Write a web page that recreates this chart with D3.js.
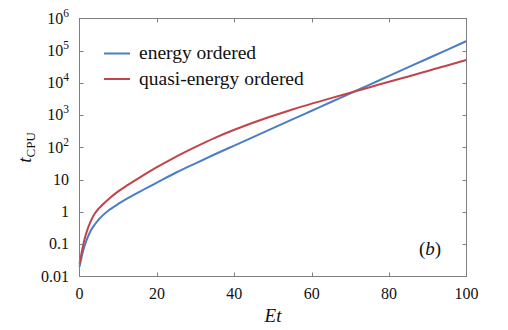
<!DOCTYPE html>
<html>
<head>
<meta charset="utf-8">
<script src="https://cdn.jsdelivr.net/npm/d3@7"></script>
<style>
  html, body { margin: 0; padding: 0; background: #fff; }
</style>
</head>
<body>
<div id="chart"></div>
<script>
// ── Data ──────────────────────────────────────
const ET = [0, 0.25, 0.5, 1, 1.5, 2, 3, 4, 5, 6, 8, 10, 12.5, 15, 20, 25, 30, 35, 40, 45, 50, 55, 60, 65, 70, 75, 80, 85, 90, 95, 100];
const ENERGY_ORDERED = [0.020, 0.0275, 0.038, 0.066, 0.105, 0.151, 0.275, 0.417, 0.589, 0.785, 1.23, 1.78, 2.69, 3.94, 8.13, 16.8, 32.4, 61.7, 115, 214, 398, 741, 1380, 2570, 4790, 8910, 16600, 30900, 57500, 107000, 200000];
const QUASI_ORDERED  = [0.0251, 0.0363, 0.0513, 0.102, 0.174, 0.275, 0.550, 0.912, 1.29, 1.70, 2.82, 4.37, 6.92, 10.7, 24.5, 52.5, 105, 200, 355, 596, 966, 1500, 2290, 3390, 5010, 7410, 11000, 16000, 23700, 35100, 51900];
const SERIES = [
  { name: "energy ordered",       values: ENERGY_ORDERED, color: "#4A7EC2" },
  { name: "quasi-energy ordered", values: QUASI_ORDERED,  color: "#C0444A" }
];
const X_TICKS = [0, 20, 40, 60, 80, 100];
const Y_TICKS = [0.01, 0.1, 1, 10, 1e2, 1e3, 1e4, 1e5, 1e6];

const W = 508, H = 330;
const AXIS = "#7f7f7f";

// pick the first serif face that is actually installed
function pickFont(list) {
  const ctx = document.createElement("canvas").getContext("2d");
  const probe = "energy ordered 0.01 quasi";
  ctx.font = "20px monospace";
  const base = ctx.measureText(probe).width;
  for (const f of list) {
    ctx.font = `20px "${f}", monospace`;
    if (Math.abs(ctx.measureText(probe).width - base) > 0.5) return `"${f}"`;
  }
  return "serif";
}
const FONT = pickFont(["Liberation Serif", "DejaVu Serif", "Tinos", "Times New Roman", "Noto Serif", "FreeSerif", "Nimbus Roman", "Times"]);

const x = d3.scaleLinear().domain([0, 100]).range([79.5, 466.5]);
const y = d3.scaleLog().domain([0.01, 1e6]).range([276.5, 18.5]);

const svg = d3.select("#chart").append("svg").attr("width", W).attr("height", H)
  .style("font-family", FONT);

// ── Curves ───────────────────────────────────
const line = d3.line().curve(d3.curveMonotoneX);
SERIES.forEach(s => {
  svg.append("path")
    .attr("d", line(ET.map((e, i) => [x(e), y(s.values[i])])))
    .attr("fill", "none").attr("stroke", s.color).attr("stroke-width", 2);
});

// ── Frame + inward ticks ─────────────────────
const [x0, x1] = x.range(), [y0, y1] = y.range();
svg.append("rect").attr("x", x0).attr("y", y1).attr("width", x1 - x0).attr("height", y0 - y1)
  .attr("fill", "none").attr("stroke", AXIS).attr("stroke-width", 1);

const tl = 4;
X_TICKS.slice(1, -1).forEach(t => {
  const px = Math.round(x(t)) + 0.5;
  svg.append("line").attr("x1", px).attr("x2", px).attr("y1", y0).attr("y2", y0 - tl).attr("stroke", AXIS);
  svg.append("line").attr("x1", px).attr("x2", px).attr("y1", y1).attr("y2", y1 + tl).attr("stroke", AXIS);
});
Y_TICKS.slice(1, -1).forEach(t => {
  const py = Math.round(y(t)) + 0.5;
  svg.append("line").attr("x1", x0).attr("x2", x0 + tl).attr("y1", py).attr("y2", py).attr("stroke", AXIS);
  svg.append("line").attr("x1", x1).attr("x2", x1 - tl).attr("y1", py).attr("y2", py).attr("stroke", AXIS);
});

// ── Tick labels ──────────────────────────────
svg.selectAll(".xl").data(X_TICKS).join("text")
  .attr("x", d => x(d)).attr("y", 299)
  .attr("text-anchor", "middle").attr("font-size", 16).attr("fill", "#111")
  .text(d => d);

Y_TICKS.forEach(t => {
  const txt = svg.append("text").attr("x", 69).attr("y", y(t) + 5)
    .attr("text-anchor", "end").attr("font-size", 16).attr("fill", "#111");
  if (t <= 10) {
    txt.text(t);
  } else {
    txt.append("tspan").text("10");
    txt.append("tspan").attr("dy", -7).attr("font-size", 11.5).text(Math.round(Math.log10(t)));
  }
});

// ── Axis titles ──────────────────────────────
svg.append("text").attr("x", (x0 + x1) / 2).attr("y", 322)
  .attr("text-anchor", "middle").attr("font-size", 19).attr("font-style", "italic").attr("fill", "#111")
  .text("Et");

const yt = svg.append("text")
  .attr("transform", `translate(31,${(y0 + y1) / 2}) rotate(-90)`)
  .attr("text-anchor", "middle").attr("font-size", 19).attr("fill", "#111");
yt.append("tspan").attr("font-style", "italic").text("t");
yt.append("tspan").attr("dy", 4).attr("font-size", 13).text("CPU");

// ── Legend ───────────────────────────────────
SERIES.forEach((s, i) => {
  const ly = 53.5 + i * 25.5;
  svg.append("line").attr("x1", 104).attr("x2", 130).attr("y1", ly).attr("y2", ly)
    .attr("stroke", s.color).attr("stroke-width", 2);
  svg.append("text").attr("x", 139).attr("y", ly + 5.5)
    .attr("font-size", 19.5).attr("fill", "#111").text(s.name);
});

// ── Panel label ──────────────────────────────
const pl = svg.append("text").attr("x", 430).attr("y", 255)
  .attr("text-anchor", "middle").attr("font-size", 19).attr("fill", "#111");
pl.append("tspan").text("(");
pl.append("tspan").attr("font-style", "italic").text("b");
pl.append("tspan").text(")");
</script>
</body>
</html>
